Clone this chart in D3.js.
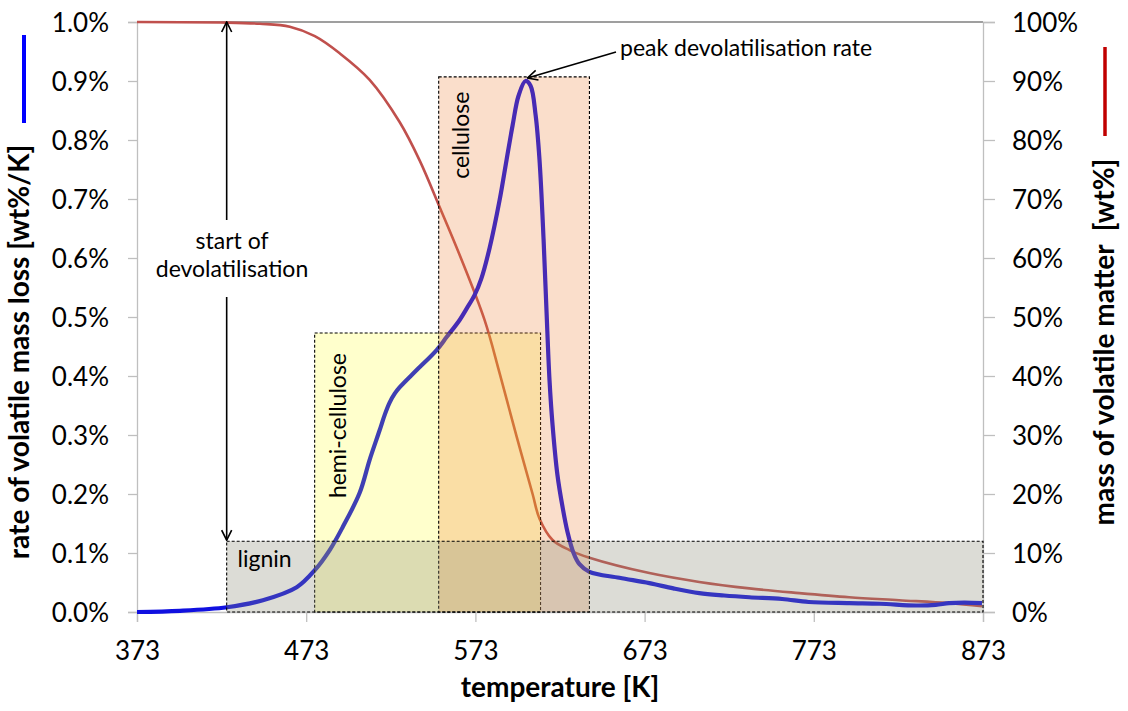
<!DOCTYPE html>
<html>
<head>
<meta charset="utf-8">
<script src="https://cdn.jsdelivr.net/npm/d3@7"></script>
<style>
  html, body { margin: 0; padding: 0; background: #fff; }
  svg { display: block; font-family: Lato, "Open Sans", sans-serif; }
</style>
</head>
<body>
<svg id="chart" width="1128" height="711"></svg>
<script>
// Temperature [K] and rate of volatile mass loss [wt%/K]
const rateTemp = [373.0, 398.4, 426.1, 447.4, 467.4, 478.1, 486.9, 494.6, 504.6, 510.5, 516.4, 519.5, 522.3, 525.3, 528.3, 538.3, 550.1, 556.0, 563.7, 568.0, 572.5, 576.5, 581.4, 587.3, 591.4, 595.0, 598.5, 602.6, 605.6, 608.6, 610.9, 613.3, 615.0, 616.8, 618.6, 621.5, 624.5, 627.4, 631.0, 634.5, 640.4, 658.1, 675.8, 690.0, 705.3, 720.0, 734.9, 754.3, 770.0, 793.9, 812.0, 833.4, 845.0, 852.9, 862.0, 872.4];
const rateValue = [0.000, 0.002, 0.008, 0.020, 0.042, 0.071, 0.105, 0.144, 0.202, 0.258, 0.308, 0.335, 0.355, 0.370, 0.381, 0.410, 0.444, 0.466, 0.495, 0.515, 0.537, 0.565, 0.617, 0.698, 0.766, 0.825, 0.875, 0.900, 0.892, 0.842, 0.766, 0.631, 0.512, 0.393, 0.317, 0.232, 0.178, 0.136, 0.100, 0.081, 0.068, 0.058, 0.049, 0.040, 0.032, 0.028, 0.025, 0.022, 0.017, 0.015, 0.014, 0.011, 0.012, 0.015, 0.016, 0.015];

// Temperature [K] and remaining mass of volatile matter [wt%]
const massTemp = [373.0, 426.1, 445.6, 463.3, 478.1, 492.8, 510.5, 528.3, 540.1, 551.9, 563.7, 578.4, 587.3, 597.3, 606.8, 610.9, 618.6, 628.6, 640.4, 675.8, 705.3, 734.9, 764.4, 793.9, 823.4, 852.9, 872.4];
const massValue = [100, 99.9, 99.7, 99.2, 97.6, 94.7, 90.2, 83.0, 76.5, 68.6, 60.5, 49.5, 40.5, 29.8, 20.0, 15.8, 12.2, 10.5, 9.2, 6.6, 5.1, 4.0, 3.2, 2.5, 2.0, 1.5, 1.0];

// Decomposition ranges of the biomass components
const componentNames = ["hemi-cellulose", "cellulose", "lignin"];
const componentStart = [478, 551.3, 426];
const componentEnd = [611.5, 640.4, 873];
const componentTop = [0.473, 0.907, 0.120];

const xTicks = [373, 473, 573, 673, 773, 873];
const rateTicks = [0, 0.1, 0.2, 0.3, 0.4, 0.5, 0.6, 0.7, 0.8, 0.9, 1.0];
const massTicks = [0, 10, 20, 30, 40, 50, 60, 70, 80, 90, 100];

(function draw() {
  const svg = d3.select("#chart");
  const plotLeft = 137, plotRight = 983, plotTop = 22, plotBottom = 612;

  const x = d3.scaleLinear().domain([373, 873]).range([plotLeft, plotRight]);
  const yRate = d3.scaleLinear().domain([0, 1.0]).range([plotBottom, plotTop]);
  const yMass = d3.scaleLinear().domain([0, 100]).range([plotBottom, plotTop]);

  const axisGrey = "#bfbfbf";
  const tickFont = "26px";
  const labelFont = "23px";
  const titleFont = "28px";

  // arrow head marker
  const defs = svg.append("defs");
  defs.append("marker")
    .attr("id", "head")
    .attr("viewBox", "0 0 12 12")
    .attr("refX", 11).attr("refY", 6)
    .attr("markerWidth", 12).attr("markerHeight", 12)
    .attr("markerUnits", "userSpaceOnUse")
    .attr("orient", "auto")
    .append("path")
    .attr("d", "M1,1 L11,6 L1,11")
    .attr("fill", "none").attr("stroke", "#000").attr("stroke-width", 1.6);

  // top frame line
  svg.append("line")
    .attr("x1", plotLeft).attr("x2", plotRight).attr("y1", plotTop).attr("y2", plotTop)
    .attr("stroke", "#404040").attr("stroke-width", 1.2);

  // axes
  const gx = svg.append("g").attr("transform", `translate(0,${plotBottom})`)
    .call(d3.axisBottom(x).tickValues(xTicks).tickSize(10).tickPadding(20).tickFormat(d3.format("d")));
  const gl = svg.append("g").attr("transform", `translate(${plotLeft},0)`)
    .call(d3.axisLeft(yRate).tickValues(rateTicks).tickSize(9).tickPadding(19).tickFormat(d => d.toFixed(1) + "%"));
  const gr = svg.append("g").attr("transform", `translate(${plotRight},0)`)
    .call(d3.axisRight(yMass).tickValues(massTicks).tickSize(12).tickPadding(17).tickFormat(d => d + "%"));

  [gx, gl, gr].forEach(g => {
    g.selectAll(".domain").attr("stroke", axisGrey).attr("stroke-width", 1.3);
    g.selectAll(".tick line").attr("stroke", axisGrey).attr("stroke-width", 1.3);
    g.selectAll(".tick text").attr("fill", "#000").style("font-size", tickFont)
      .style("font-family", "Lato, 'Open Sans', sans-serif");
  });
  gl.selectAll(".tick text").attr("dy", "0.36em");
  gr.selectAll(".tick text").attr("dy", "0.36em");

  // curves
  const massLine = d3.line()
    .x((d, i) => x(massTemp[i])).y(d => yMass(d))
    .curve(d3.curveCatmullRom.alpha(0.5));
  svg.append("path").datum(massValue)
    .attr("d", massLine)
    .attr("fill", "none").attr("stroke", "#c0504d").attr("stroke-width", 2.6);

  const rateLine = d3.line()
    .x((d, i) => x(rateTemp[i])).y(d => yRate(d))
    .curve(d3.curveCatmullRom.alpha(0.5));
  svg.append("path").datum(rateValue)
    .attr("d", rateLine)
    .attr("fill", "none").attr("stroke", "#1010e0").attr("stroke-width", 4.2)
    .attr("stroke-linejoin", "round");

  // translucent component ranges, drawn over the curves
  const fills = {
    "hemi-cellulose": "rgba(255,255,0,0.2)",
    "cellulose": "rgba(237,125,49,0.25)",
    "lignin": "rgba(140,140,120,0.3)"
  };
  componentNames.forEach((name, i) => {
    svg.append("rect")
      .attr("x", x(componentStart[i]))
      .attr("y", yRate(componentTop[i]))
      .attr("width", x(componentEnd[i]) - x(componentStart[i]))
      .attr("height", yRate(0) - yRate(componentTop[i]))
      .attr("fill", fills[name])
      .attr("stroke", "#000").attr("stroke-width", 1.1)
      .attr("stroke-dasharray", "3,2");
  });

  // component labels
  svg.append("text")
    .attr("x", x(componentStart[2]) + 38).attr("y", yRate(componentTop[2]) + 20)
    .attr("text-anchor", "middle").attr("dominant-baseline", "middle")
    .style("font-size", labelFont).text("lignin");
  svg.append("text")
    .attr("transform", `translate(${x(componentStart[0]) + 26},${yRate(0.316)}) rotate(-90)`)
    .attr("text-anchor", "middle").attr("dominant-baseline", "middle")
    .style("font-size", labelFont).text("hemi-cellulose");
  svg.append("text")
    .attr("transform", `translate(${x(componentStart[1]) + 24},${yRate(0.808)}) rotate(-90)`)
    .attr("text-anchor", "middle").attr("dominant-baseline", "middle")
    .style("font-size", labelFont).text("cellulose");

  // start of devolatilisation
  const startT = componentStart[2];
  svg.append("line")
    .attr("x1", x(startT)).attr("x2", x(startT))
    .attr("y1", 220).attr("y2", yRate(1.0))
    .attr("stroke", "#000").attr("stroke-width", 1.6)
    .attr("marker-end", "url(#head)");
  svg.append("line")
    .attr("x1", x(startT)).attr("x2", x(startT))
    .attr("y1", 297).attr("y2", yRate(componentTop[2]) - 1)
    .attr("stroke", "#000").attr("stroke-width", 1.6)
    .attr("marker-end", "url(#head)");
  svg.append("text")
    .attr("x", 232).attr("y", 243)
    .attr("text-anchor", "middle").attr("dominant-baseline", "middle")
    .style("font-size", labelFont).text("start of");
  svg.append("text")
    .attr("x", 232).attr("y", 271)
    .attr("text-anchor", "middle").attr("dominant-baseline", "middle")
    .style("font-size", labelFont).text("devolatilisation");

  // peak devolatilisation rate
  const peakIdx = rateValue.indexOf(d3.max(rateValue));
  svg.append("line")
    .attr("x1", 616).attr("y1", 52)
    .attr("x2", x(rateTemp[peakIdx]) + 2).attr("y2", yRate(rateValue[peakIdx]) - 3)
    .attr("stroke", "#000").attr("stroke-width", 1.6)
    .attr("marker-end", "url(#head)");
  svg.append("text")
    .attr("x", 620).attr("y", 50)
    .attr("dominant-baseline", "middle")
    .style("font-size", labelFont).text("peak devolatilisation rate");

  // axis titles
  svg.append("text")
    .attr("x", 560).attr("y", 690)
    .attr("text-anchor", "middle").attr("dominant-baseline", "middle")
    .style("font-size", titleFont).style("font-weight", "bold").text("temperature [K]");
  svg.append("text")
    .attr("transform", `translate(22,352) rotate(-90)`)
    .attr("text-anchor", "middle").attr("dominant-baseline", "middle")
    .style("font-size", titleFont).style("font-weight", "bold").text("rate of volatile mass loss [wt%/K]");
  svg.append("text")
    .attr("transform", `translate(1107,342) rotate(-90)`)
    .attr("text-anchor", "middle").attr("dominant-baseline", "middle")
    .style("font-size", titleFont).style("font-weight", "bold")
    .text("mass of volatile matter\u00a0 [wt%]");

  // series keys next to the axis titles
  svg.append("line")
    .attr("x1", 24).attr("x2", 24).attr("y1", 35).attr("y2", 123)
    .attr("stroke", "#0000ff").attr("stroke-width", 4);
  svg.append("line")
    .attr("x1", 1105).attr("x2", 1105).attr("y1", 47).attr("y2", 136)
    .attr("stroke", "#c00000").attr("stroke-width", 3.5);
})();
</script>
</body>
</html>
